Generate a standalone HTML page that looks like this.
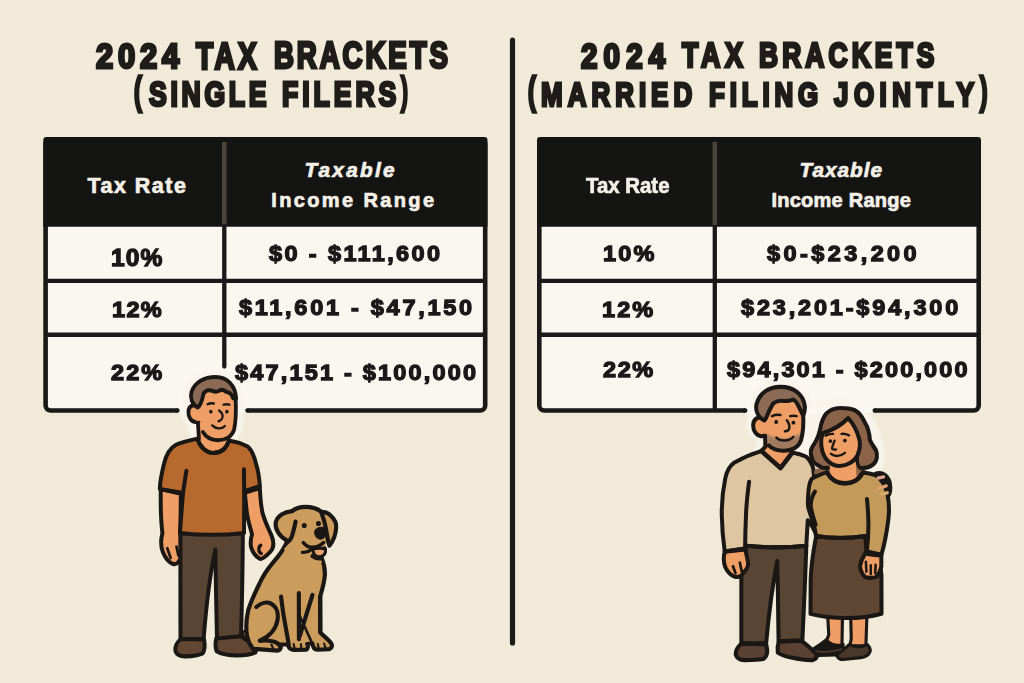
<!DOCTYPE html>
<html><head><meta charset="utf-8"><title>2024 Tax Brackets</title>
<style>
html,body{margin:0;padding:0}
body{width:1024px;height:683px;background:#f1ead9;overflow:hidden;font-family:"Liberation Sans",sans-serif}
#page{position:relative;width:1024px;height:683px;background:#f1ead9;overflow:hidden}
.t{position:absolute;white-space:pre;line-height:1;font-family:"Liberation Sans",sans-serif;font-weight:bold;transform-origin:0 0;color:#1b1917}
.ttl{color:#1f1c19;-webkit-text-stroke:3.0px #1f1c19;paint-order:stroke fill}
.hd{color:#f4f0e7;-webkit-text-stroke:0.7px #f4f0e7}
.it{font-style:italic}
.cell{color:#1b1917;-webkit-text-stroke:1.3px #1b1917;paint-order:stroke fill}
svg{position:absolute;left:0;top:0}
</style></head>
<body>
<div id="page">
<svg width="1024" height="683" viewBox="0 0 1024 683">
 <line x1="512.5" y1="40" x2="512.5" y2="643" stroke="#1c1a17" stroke-width="5.2" stroke-linecap="round"/>
 <!-- left table -->
 <g>
  <rect x="45.6" y="139.3" width="439.6" height="271.2" rx="5" ry="5" fill="#faf7f0" stroke="#1b1917" stroke-width="4.6"/>
  <path d="M43.3 226.8V140a3 3 0 0 1 3-3H484.5a3 3 0 0 1 3 3V226.8Z" fill="#141412"/>
  <rect x="222" y="142" width="4.6" height="83" fill="#4b4439"/>
  <line x1="224.3" y1="226" x2="224.3" y2="366.5" stroke="#1b1917" stroke-width="4.3" stroke-linecap="round"/>
  <line x1="46" y1="280.9" x2="485" y2="280.9" stroke="#1b1917" stroke-width="4.3"/>
  <line x1="46" y1="334.75" x2="485" y2="334.75" stroke="#1b1917" stroke-width="4.3"/>
 </g>
 <!-- right table -->
 <g>
  <rect x="539.3" y="139.3" width="439.4" height="271.2" rx="5" ry="5" fill="#faf7f0" stroke="#1b1917" stroke-width="4.6"/>
  <path d="M537 226.8V140a3 3 0 0 1 3-3H978a3 3 0 0 1 3 3V226.8Z" fill="#141412"/>
  <rect x="712.5" y="142" width="4.6" height="83" fill="#4b4439"/>
  <line x1="714.8" y1="226" x2="714.8" y2="409" stroke="#1b1917" stroke-width="4.3"/>
  <line x1="539" y1="280.9" x2="978" y2="280.9" stroke="#1b1917" stroke-width="4.3"/>
  <line x1="539" y1="334.75" x2="978" y2="334.75" stroke="#1b1917" stroke-width="4.3"/>
 </g>
<defs>
 <filter id="soft2" x="-20%" y="-20%" width="140%" height="140%"><feGaussianBlur stdDeviation="1.6"/></filter>
</defs>
<!-- halos over table borders -->
<g fill="#f8f4eb" stroke="#f8f4eb" stroke-linecap="round" stroke-linejoin="round" filter="url(#soft2)">
 <path d="M197 437 C194 430 193 424 192 421 C186 418 184.5 410 187.5 405.5 C187 396 190 386 198 381 C210 373.5 230 375.5 236 388 C239.5 396 239 412 237.5 424 C236.5 431 233 436 230 440 Z" stroke-width="11"/>
 <path d="M761 449 L764 436 C756 435 750.5 428 752.5 420 C753 417 754.5 415.5 756 415 C753.5 405 756.5 394 766 388.5 C778 382 796 384.5 802.5 395 C806.5 402 805.5 412 804 420 C815 408 830 402 846 405.5 C862 410 873 425 876 441 C879 450 882 458 877 466 L812 466 L806 456 L792 451 Z" stroke-width="11"/>
</g>
<g fill="none" stroke-linecap="butt">
 <path d="M177.4 410.5 L247.5 410.5 M745.2 410.5 L874.8 410.5" stroke="#faf7f0" stroke-width="5.4"/>
 <path d="M177 410.5 L177.4 410.5 M247.5 410.5 L247.9 410.5 M744.8 410.5 L745.2 410.5 M874.8 410.5 L875.2 410.5" stroke="#1b1917" stroke-width="4.6" stroke-linecap="round"/>
</g>
</svg>

<div class="t ttl" style="left:96.03px;top:37.50px;font-size:35.92px;letter-spacing:5.585px;transform:scale(0.8600,1.0000)">2024</div>
<div class="t ttl" style="left:196.32px;top:38.50px;font-size:36.96px;letter-spacing:4.362px;transform:scale(0.7600,1.0000)">TAX</div>
<div class="t ttl" style="left:273.87px;top:38.00px;font-size:36.43px;letter-spacing:3.78px;transform:scale(0.7600,1.0000)">BRACKETS</div>
<div class="t ttl" style="left:134.43px;top:70.79px;font-size:35.0px;letter-spacing:0px;transform:scale(0.6596,1.1049)">(</div>
<div class="t ttl" style="left:148.58px;top:76.00px;font-size:35.0px;letter-spacing:4.868px;transform:scale(0.7600,1.0000)">SINGLE</div>
<div class="t ttl" style="left:281.88px;top:76.00px;font-size:35.0px;letter-spacing:5.184px;transform:scale(0.7600,1.0000)">FILERS</div>
<div class="t ttl" style="left:401.14px;top:70.79px;font-size:35.0px;letter-spacing:0px;transform:scale(0.5895,1.1049)">)</div>
<div class="t ttl" style="left:580.62px;top:38.55px;font-size:34.23px;letter-spacing:7.223px;transform:scale(0.8600,1.0000)">2024</div>
<div class="t ttl" style="left:682.00px;top:37.14px;font-size:35.22px;letter-spacing:6.151px;transform:scale(0.7600,1.0000)">TAX</div>
<div class="t ttl" style="left:759.29px;top:38.39px;font-size:34.71px;letter-spacing:5.43px;transform:scale(0.7600,1.0000)">BRACKETS</div>
<div class="t ttl" style="left:528.25px;top:69.58px;font-size:34.0px;letter-spacing:0px;transform:scale(0.6836,1.1568)">(</div>
<div class="t ttl" style="left:541.14px;top:77.14px;font-size:34.14px;letter-spacing:6.61px;transform:scale(0.7600,1.0000)">MARRIED</div>
<div class="t ttl" style="left:708.85px;top:77.10px;font-size:34.14px;letter-spacing:6.374px;transform:scale(0.7600,1.0000)">FILING</div>
<div class="t ttl" style="left:834.49px;top:77.10px;font-size:34.14px;letter-spacing:7.23px;transform:scale(0.7600,1.0000)">JOINTLY</div>
<div class="t ttl" style="left:979.92px;top:69.58px;font-size:34.0px;letter-spacing:0px;transform:scale(0.6571,1.1568)">)</div>
<div class="t hd" style="left:87.56px;top:175.75px;font-size:21.45px;letter-spacing:1.5px;transform:scale(1.0000,1.0000)">Tax Rate</div>
<div class="t hd it" style="left:304.38px;top:159.50px;font-size:20.72px;letter-spacing:2.292px;transform:scale(1.0000,1.0000)">Taxable</div>
<div class="t hd" style="left:271.30px;top:190.26px;font-size:20.0px;letter-spacing:2.364px;transform:scale(1.0000,1.0000)">Income Range</div>
<div class="t cell" style="left:111.45px;top:246.25px;font-size:23.87px;letter-spacing:1.015px;transform:scale(1.0300,1.0000)">10%</div>
<div class="t cell" style="left:269.26px;top:242.03px;font-size:22.82px;letter-spacing:2.314px;transform:scale(1.0300,1.0000)">$0 - $111,600</div>
<div class="t cell" style="left:111.71px;top:298.00px;font-size:22.82px;letter-spacing:1.286px;transform:scale(1.0300,1.0000)">12%</div>
<div class="t cell" style="left:238.61px;top:295.78px;font-size:22.82px;letter-spacing:2.65px;transform:scale(1.0300,1.0000)">$11,601 - $47,150</div>
<div class="t cell" style="left:110.50px;top:360.75px;font-size:22.82px;letter-spacing:2.007px;transform:scale(1.0300,1.0000)">22%</div>
<div class="t cell" style="left:234.86px;top:360.78px;font-size:22.82px;letter-spacing:2.128px;transform:scale(1.0300,1.0000)">$47,151 - $100,000</div>
<div class="t hd" style="left:585.82px;top:175.75px;font-size:21.45px;letter-spacing:0px;transform:scale(0.9514,1.0000)">Tax Rate</div>
<div class="t hd it" style="left:799.57px;top:159.50px;font-size:20.72px;letter-spacing:1.0px;transform:scale(1.0000,1.0000)">Taxable</div>
<div class="t hd" style="left:771.39px;top:189.76px;font-size:20.0px;letter-spacing:0.25px;transform:scale(1.0000,1.0000)">Income Range</div>
<div class="t cell" style="left:603.43px;top:242.25px;font-size:22.82px;letter-spacing:2.136px;transform:scale(1.0300,1.0000)">10%</div>
<div class="t cell" style="left:767.21px;top:242.03px;font-size:22.82px;letter-spacing:3.32px;transform:scale(1.0300,1.0000)">$0-$23,200</div>
<div class="t cell" style="left:602.15px;top:298.00px;font-size:22.82px;letter-spacing:2.015px;transform:scale(1.0300,1.0000)">12%</div>
<div class="t cell" style="left:740.67px;top:295.78px;font-size:22.82px;letter-spacing:2.744px;transform:scale(1.0300,1.0000)">$23,201-$94,300</div>
<div class="t cell" style="left:602.50px;top:358.00px;font-size:22.82px;letter-spacing:1.522px;transform:scale(1.0300,1.0000)">22%</div>
<div class="t cell" style="left:726.96px;top:358.03px;font-size:22.82px;letter-spacing:2.102px;transform:scale(1.0300,1.0000)">$94,301 - $200,000</div>

<svg width="1024" height="683" viewBox="0 0 1024 683">
<defs>
 <filter id="soft" x="-20%" y="-20%" width="140%" height="140%"><feGaussianBlur stdDeviation="1.6"/></filter>
</defs>
<!-- ================= MAN ================= -->
<g transform="translate(216.7 517.1) scale(0.969 0.987) translate(-217 -517.5)" stroke="#1a1714" stroke-width="4.1" stroke-linejoin="round" stroke-linecap="round">
 <!-- arms (skin) -->
 <path d="M159.3 489 C159 505 159.5 522 161 534 C159 541 159.5 548 161.5 553 C164 559 168 563.5 172 565 C176 566 178 563 181 557 C183.5 553 184 550 183 547 C181 543 179.5 538 179.5 534 L180 494 Z" fill="#ef9f65"/>
 <path d="M261.5 488 C262 498 262.5 506 264.5 514 C267 523 271 530 273.5 536 C276.5 543 276 549 272 553 C268 557 264.5 560 262 560 C258 558 254 553 252.5 548 C251.5 543 252.5 538 253.5 535 C251.5 528 249 520 248 512 L246 493 Z" fill="#ef9f65"/>
 <path d="M166 549 L169.5 559 M175.5 547.5 L177.5 556.5" fill="none" stroke-width="2.8"/>
 <path d="M262.5 546 C259.5 548 260 553 263 554.5" fill="none" stroke-width="3.4"/>
 <!-- pants -->
 <path d="M179.5 534 L179.6 641 L203.5 641 C206 610 210 575 215.6 550.5 C216 580 216.5 612 217.3 641 L242 640 C243 610 243.7 575 244 534 Z" fill="#594533"/>
 <!-- shoes -->
 <path d="M180 641 C176 644 173.5 649 174.5 653.5 C176 657.5 180 658.8 185 658.6 C192 658.4 198 657.5 202.5 655.5 C205 652 204.8 646 204 641.5 Z" fill="#634735"/>
 <path d="M216.5 640.5 C215.5 645 215.5 650 217 653.5 C222 656.5 230 657.7 238 657.7 C246 657.7 253 656.5 257 654.5 C258.5 651.5 257.5 648.5 255 647 C250 643.5 245.5 640.5 242 638.3 Z" fill="#634735"/>
 <!-- neck -->
 <path d="M197 419 L198 441 C204 455 226 455 231 440 L235 428 Z" fill="#ef9f65" stroke="none"/>
 <!-- shirt -->
 <path d="M197 438 C188 440 180 442 175 444.2 C168 448 164.5 455 162.5 464 C160 474 158.5 482 158.3 489 L182.2 493.3 L179 533.5 C200 536 224 536 245.2 533.5 L245.4 491.5 L261.5 486.2 C261 478 259.8 470 257.5 463 C255.5 455 253 449.5 249 446 C243 443 236 441 229.6 440 C227 448 221 452.5 213.5 452.5 C206 452.5 199.5 446 197 438 Z" fill="#b8692e"/>
 <path d="M185.7 470.5 L182.2 493 M245.1 469 L245.4 491.5" fill="none"/>
 <path d="M158.5 489 L182.2 493.3 M245.4 491.5 L261.3 486.2" fill="none" stroke-width="3.8"/>
 <path d="M197 438 C199.5 446 206 452.5 213.5 452.5 C221 452.5 227 448 229.6 440" fill="none" stroke-width="4"/>
 <g transform="translate(213.3 0) scale(0.955 1) translate(-213.3 0)">
 <!-- head: face -->
 <path d="M197 386 C196 405 196.5 420 201 430 C205 437 212 439.6 218.5 439.6 C228 439.6 234 435 236 428.5 C238 418 238 405 237.5 386 Z" fill="#ef9f65" stroke="none"/>
 <path d="M237.6 397 C238.2 408 238 420 236 428.8 C233.5 436 226.5 439.6 218.5 439.6 C211.5 439.6 205.5 436.5 202.3 431.3" fill="none"/>
 <path d="M196.8 421 L198 438" fill="none"/>
 <!-- ear -->
 <path d="M197.5 405.5 C193 402.5 187 404.5 186.6 410.5 C186.3 416 189.5 420.5 194 421.2 L197.5 421" fill="#ef9f65"/>
 <rect x="195" y="407.5" width="5" height="12.5" fill="#ef9f65" stroke="none"/>
 <!-- hair -->
 <path d="M196.6 406.5 C190.5 403.5 188 396.5 190 390.5 C193.5 380.5 204 375.6 216 375.6 C228 375.6 237.5 383.5 238.2 397.5 L235 397 C233.5 393 230.5 390.8 227.2 390.5 C225 388.2 221.8 388.3 219.5 389.6 C216.5 391.4 213.5 390.3 210.8 389.2 C207.5 388.4 204.8 389.8 203 392.3 C201.8 397 200.8 403.5 196.6 406.5 Z" fill="#8b6b55"/>
 <!-- face details -->
 <path d="M207.3 403.2 C209.5 402 212 401.9 214.1 402.4 M224.7 403.6 C226.8 403 229 403 230.9 403.6" fill="none" stroke-width="2.4"/>
 <circle cx="210.8" cy="410.7" r="1.9" fill="#1a1714" stroke="none"/>
 <circle cx="228.2" cy="410.7" r="1.9" fill="#1a1714" stroke="none"/>
 <path d="M219.8 409.5 C222.5 411.5 224.2 414.5 223.3 417 C222.5 419 221 420 219.2 420.4" fill="none" stroke-width="2.4"/>
 <path d="M212.3 424.6 C216 428.3 222.5 428.6 226 425.3" fill="none" stroke-width="2.4"/>
 </g>
</g>
<!-- ================= DOG ================= -->
<g transform="translate(289.75 578.65) scale(0.967 0.9755) translate(-290 -578.5)" stroke="#1a1714" stroke-width="4.3" stroke-linejoin="round" stroke-linecap="round">
 <!-- tail -->
 <path d="M246 632 C242.5 631 241 634 242 637 C243 640 245 641.5 248 641.5" fill="#cc9c5d" stroke-width="2.6"/>
 <!-- body -->
 <path d="M287 541 C283 550 278 556 273.5 561 C267 568.5 262 576 258.5 584 C253.5 594 249.5 603 247 611 C245 620 244.5 630 246 638 C247 643 249 647 252 650.5 L277.5 652.3 C281 651.5 281.5 648 279.5 646 L288 646 C289 650 291.5 651.8 295 651.6 L307 651.4 C309 650 309.3 647.5 308 645.5 L313.5 645 C314 649.5 316 651.5 319 651.4 L331 650.8 C334 649.5 334.3 646.5 332.5 644.3 C329.5 640.5 324.5 637 321.6 633.5 L321.4 597 C323.5 590 325.8 583 326.3 575 C326.6 568 325 562 323 557.5 Z" fill="#cc9c5d"/>
 <!-- gap between legs -->
 <path d="M302.3 617.5 L306.5 624.5 L301 632 Z" fill="#f1ead9" stroke="none"/>
 <!-- leg lines -->
 <path d="M281 597 C282.5 610 284.5 622 286.2 630.5 C287.2 636 288.2 641 288.9 646" fill="none"/>
 <path d="M299.4 593.4 L299.5 640.5" fill="none"/>
 <path d="M313.5 595.2 L300.3 637.3" fill="none"/>
 <path d="M300.5 617 L312.6 643.5" fill="none" stroke-width="2.8"/>
 <path d="M321.5 597 L321.5 633.5" fill="none"/>
 <!-- haunch -->
 <path d="M255.5 607.6 C260 603.5 266 602 270.5 604 C276.5 607 278.5 614 277.3 621 C276 629 270 637.5 259 642.2 C263.5 641.8 268.5 641.8 272.2 642.6 C276 643.6 279 645.5 280.1 648" fill="none"/>
 <!-- toes -->
 <path d="M271 646 L273 650.5 M294 645.5 L295 650 M301.5 645.5 L302 650 M319 645.5 L320 650 M325.5 645 L327 649.5" fill="none" stroke-width="2.2"/>
 <!-- ears + head -->
 <path d="M290 511 C295 506.5 301 505 306 505 C312 505 318 506.5 322.5 509.8 C328 513 330 519 330 526 C330.5 534 329 541 326 547.5 C325 552 323.5 556 321.5 557.8 L323.5 562 L300 575 L284 548 L291.5 540 C293.5 532 295.5 522 296 514 Z" fill="#cc9c5d" stroke="none"/>
 <path d="M291.5 510 L298 508.5 L297.5 522 L293 522 Z" fill="#cc9c5d" stroke="none"/>
 <path d="M291.5 509.8 C296 506.5 301 505 306 505 C312 505 318 506.5 322.5 509.8" fill="none"/>
 <path d="M292.5 509.3 C284.5 509.8 277 514 275.5 521 C274.5 528 279.5 536 288.5 540.3 C291 539 292.4 535.5 293.4 531 C294.6 527 295.4 523.5 296 520" fill="#cc9c5d"/>
 <path d="M322.5 510 C326 510 329.5 511 332 513.5 C336.5 517.5 338.5 522 338 526.5 C337.5 533 335 540 331 544.6 C329.5 541 329 537 328.5 533.5 C327.5 527 326 520 324 514.5 Z" fill="#cc9c5d"/>
 <path d="M326 547.5 C325 552 323.5 556 321.5 557.8 C319 558 316 557 313.5 555.5" fill="none"/>
 <!-- face -->
 <circle cx="305" cy="524" r="2.6" fill="#1a1714" stroke="none"/>
 <circle cx="319.7" cy="522" r="2.6" fill="#1a1714" stroke="none"/>
 <path d="M316 530 C317 527 321 525.3 324.5 526.3 C327 527.5 327.5 531 326.5 534 C325.5 537 322.5 538.5 320 537.5 C317.5 536.5 315.5 533.5 316 530 Z" fill="#1a1714" stroke-width="1.5"/>
 <path d="M304 541.5 C306.5 544.5 309.5 546.3 312.6 546.3 C317.5 546.5 322 544.5 325 541.5" fill="none" stroke-width="3.6"/>
 <path d="M303 551.5 C306 552 309.5 551 312.5 548.5" fill="none" stroke-width="3.4"/>
 <path d="M314 548.5 C314 553 317 556 321 556 C325 556 327.5 552.5 327 548.5 C324.5 547 317.5 547 314 548.5 Z" fill="#e8a070" stroke-width="3.2"/>
</g>
<!-- ================= COUPLE ================= -->
<g transform="translate(806.3 523.7) scale(0.977 0.988) translate(-806.5 -523.5)" stroke="#1a1714" stroke-width="4.1" stroke-linejoin="round" stroke-linecap="round">
 <!-- husband hand on wife's shoulder (behind her) -->
 <path d="M876 474 C879 471.5 884 471.8 887.5 474.5 C891 477.5 892.5 482 892.5 487 C892.5 491.5 891 495.5 888.5 497.5 L878 495 Z" fill="#1a1714"/>
 <!-- husband pants -->
 <path d="M745 546 C743 556 741 566 740 576 L740 644.5 L765.4 644.5 C768 616 771.5 588 776.8 561.2 C777.4 588 777.8 616 778.1 642.5 L802.5 641.5 C804 610 805.5 578 806.5 546 Z" fill="#594533"/>
 <!-- husband shoes -->
 <path d="M740 645 C736.5 648 734 652 734.3 656 C735.5 660 739 661.8 744 661.6 C751 661.5 757.5 661.2 762.5 660.4 C766 658 766.8 654 766.4 650.5 L765.5 645.5 Z" fill="#5a4132"/>
 <path d="M778.2 643 C777 647 776.8 651 777.3 654 C781 656.5 786 658 791 659 C798 660.5 806 661.8 813 661.6 C816 660.5 817.8 658.5 817.2 656 C813 651 807 646 801.6 642 Z" fill="#5a4132"/>
 <!-- husband: left hand -->
 <path d="M723 552 C721.5 557 722 563 723.5 567.5 C726 572.5 729.5 576 733.5 577.3 C737 577.8 740 577 741.5 574 C744.5 571 747 567.5 747 564 C746.5 559 745 554.5 744 549.5 Z" fill="#ef9f65"/>
 <path d="M731.5 566.5 L734 573.5 M738.5 563 L740.5 572" fill="none" stroke-width="2.8"/>
 <!-- husband neck -->
 <path d="M763 440 L760 452 L780 468 L793 454 L800 438 Z" fill="#ef9f65" stroke="none"/>
 <!-- husband sweater -->
 <path d="M760.4 450 C750 453 741 457 733 461.5 C727.5 465.5 724.8 471 723.5 478 C721 490 719.8 503 720 515 C720.2 528 721.5 541 723 551.7 L743.9 548.6 L745 545.8 C765 548 786 548 806.5 545.8 L808 520 C812 524 814 529 816.4 533.5 L816 490 L813.5 467 C811.5 461.5 809 457.5 806 455.5 C801.5 453.5 796.5 452.3 792 451.5 L780.1 467.2 Z" fill="#dec6a2"/>
 <path d="M747.9 481 C746.5 492 745.2 503 744.8 514 C744.3 525 744 536 743.9 547" fill="none"/>
 <path d="M723.1 551.7 L743.9 548.6" fill="none" stroke-width="4.2"/>
 <path d="M745 545.8 C765 548 786 548 806.5 545.8" fill="none" stroke-width="4.2"/>
 <path d="M760.4 449.8 L780.1 467.2 L792 451.8" fill="none" stroke-width="4.6"/>
 <!-- husband face -->
 <path d="M764 398 C762.5 412 762.5 428 765 440 C769 446.5 776 449.6 783.4 449.6 C792 449.6 799.5 445.5 801.2 438.5 C803.5 428 803.8 415 803.2 404 L800 396 Z" fill="#ef9f65" stroke="none"/>
 <path d="M765 432 C766 438 767 442 768.1 444.2 C772 448 777.5 449.6 783.4 449.6 C792 449.6 799.5 445.5 801.2 438.5 C801.8 436 802.2 433.5 802.5 431 C797 435 790 437.5 783 437.5 C776 437.5 769.5 435.5 765 432 Z" fill="#a07a5e" stroke="none" filter="url(#soft)"/>
 <path d="M803.3 412 C803.8 421 803.3 431 801.2 438.6 C799 445.8 792 449.6 783.4 449.6 C777.2 449.6 771.5 447.8 768.1 444.2" fill="none"/>
 <path d="M764.3 436 L764.8 445.5 L760.4 450" fill="none"/>
 <!-- ear -->
 <path d="M764.5 417.5 C760 414 753 416 752.2 422.5 C751.6 429 755 434 760 435 L764.5 434.5" fill="#ef9f65"/>
 <!-- hair -->
 <path d="M763.5 419 C757 415.5 754.2 409 755.5 402.5 C758.5 391.5 768 385 780.1 385 C793 385 803.5 392 805 404.5 C805.3 408 804.5 411.5 803.3 414.2 C801.5 410.5 800 407.5 799 405.5 C797.5 402 795.5 399 793 397.8 C789.5 399.2 786.5 399.6 783.4 399.3 C779.5 398.8 776 399.5 773 401.5 C770.5 404.5 768.5 409.5 766.5 414 C765.7 416 764.7 417.8 763.5 419 Z" fill="#8b6b55"/>
 <path d="M771.4 414.6 C774 413.3 777.5 413 780.1 413.5 M790 414.6 C792.2 414 794.5 414 796.6 414.6" fill="none" stroke-width="2.5"/>
 <circle cx="775.7" cy="420.6" r="2" fill="#1a1714" stroke="none"/>
 <circle cx="793.3" cy="421.2" r="2" fill="#1a1714" stroke="none"/>
 <path d="M786.6 418.8 C788.5 421.5 789.8 425 788.9 427.7 C788.2 429.3 786.5 430 784.6 429.9" fill="none" stroke-width="2.5"/>
 <path d="M775.8 436.4 C780 440.4 788.5 440.4 793.2 435.6" fill="none" stroke-width="2.5"/>

 <!-- wife legs -->
 <path d="M828.5 618 L829.5 636 C828.5 640 826.5 643 824 646 L843 647 L843.5 618 Z" fill="#ef9f65" stroke-width="3.2"/>
 <path d="M852 618 L852.5 640 L851 647 L867.5 647 L868.5 618 Z" fill="#ef9f65" stroke-width="3.2"/>
 <!-- wife shoes -->
 <path d="M814.5 649.5 C818.5 647 823 644 827 640.8 C832 646.5 839 647.2 844.5 645.5 L844.3 652 C843.5 655 841 656.3 837 656.5 L819 657 C815.5 656.5 813.8 653 814.5 649.5 Z" fill="#1a1714" stroke-width="2.6"/>
 <path d="M838 656 C842 653 846.5 649.5 850.4 645.9 C856 648.5 863 648.5 868.9 645.9 C871 648 872.3 650.5 871.8 652.8 C870.5 656.5 867 658.3 862.5 659 L844 661 C840 661 837.5 658.5 838 656 Z" fill="#4a372c" stroke-width="3.2"/>
 <path d="M816.5 652.5 C824 654 834 653.5 842.5 650.5" fill="none" stroke="#4a372c" stroke-width="2"/>
 <!-- skirt -->
 <path d="M816.4 537 C813.5 552 811.5 566 811 580 L810.8 614.8 C822 617.8 836 619 848 619 C860 619 873 617.5 883.5 614.6 L883.4 575 C882.5 562 878 549 868 537 Z" fill="#604733"/>
 <!-- wife neck -->
 <path d="M831 462 L831 476 L846 484 L856 476 L855 462 Z" fill="#ef9f65" stroke="none"/>
 <!-- wife hair back -->
 <path d="M828.6 467 C825 467.5 822 467 819.8 465.2 C815.5 463 813 461 812.6 458.1 C811 455 810.8 452 811.2 449.2 C812 446 814 443.5 816.2 440.3 C818.5 436 819.8 432 820.7 427.9 C822 420 824 415.5 827.1 411.9 C831 408 836 406.4 841.2 406.4 C847 406.4 852 407 856.3 408.6 C860.5 411 863.5 415 865.3 418.9 C868 423 869.8 427.5 870.6 431.4 C871.2 434 871.4 436.5 871.5 438.6 C873 442.5 876 446 877.8 449.2 C878.8 451.5 879 454 878.7 456.3 C878.3 459.5 877 462 875.1 463.5 C872 466 868 467.2 864 467 L869 471 L864 478 L822 478 L814.5 473 L815 468 Z" fill="#8b6349" stroke="none"/>
 <path d="M828.6 467 C825 467.5 822 467 819.8 465.2 C815.5 463 813 461 812.6 458.1 C811 455 810.8 452 811.2 449.2 C812 446 814 443.5 816.2 440.3 C818.5 436 819.8 432 820.7 427.9 C822 420 824 415.5 827.1 411.9 C831 408 836 406.4 841.2 406.4 C847 406.4 852 407 856.3 408.6 C860.5 411 863.5 415 865.3 418.9 C868 423 869.8 427.5 870.6 431.4 C871.2 434 871.4 436.5 871.5 438.6 C873 442.5 876 446 877.8 449.2 C878.8 451.5 879 454 878.7 456.3 C878.3 459.5 877 462 875.1 463.5 C872 466 868 467.2 864 467" fill="none"/>
 <path d="M831 460 L830.5 478 L846 486 L858 478 L857 458 Z" fill="#ef9f65" stroke="none"/>
 <path d="M861 445 C859 451 858 457 858.8 461.5 C859.3 464 860.3 466 861.8 467.5" fill="none" stroke-width="3.4"/>
 <!-- wife sweater -->
 <path d="M827.5 471.6 C821.5 473.5 816 475.5 812 478.2 C809.5 482 808.8 488 808.5 494 C808 499 807.8 503 808.5 507 C810.5 514 813 520.5 814.6 526 C815.5 529.5 816 532.5 816.4 536 C833 538.5 850 538.5 866.8 536 L868 551.5 L883.3 555 C885 549.5 886.3 544 887.2 539.5 C889 530 890.5 521.5 891 513.5 C891.4 506.5 890.8 499.5 889.6 494 C888 486 884 478.5 877 474.2 C873 472.8 869 472 864.5 471.6 C861 478 854.5 482.6 846 482.6 C838 482.6 831.5 478.5 827.5 471.6 Z" fill="#c49a5b"/>
 <path d="M815.3 491 C812.5 495.5 811 500 811 505 C811.5 512 814.2 518.5 816 524.5" fill="none"/>
 <path d="M868.6 498.5 C869.5 507 870 516 870.1 525 C870 534 869.4 543 868.6 551" fill="none"/>
 <path d="M816.4 536 C833 538.5 850 538.5 866.8 536" fill="none" stroke-width="4.2"/>
 <path d="M867.9 552 L883.3 555.3" fill="none" stroke-width="4.2"/>
 <path d="M827.8 471.6 C831.5 478.5 838 482.6 846 482.6 C854.5 482.6 861 478 864.3 471.6" fill="none" stroke-width="4.4"/>
 <!-- wife right hand -->
 <path d="M866.5 554 C864 558 862 562.5 861.4 566.5 C862 571 864 575 867 577.8 C870.5 578.5 874.5 578.5 878 577.6 C881 574 882.8 570.5 883.3 566.5 L883.3 556 Z" fill="#ef9f65"/>
 <path d="M867.5 562 L868 572 M872.5 565.5 L872.5 574.5 M877.5 565 L877 573.5" fill="none" stroke-width="2.6"/>
 <!-- fingers of husband's hand -->
 <g fill="none" stroke-width="3.4">
  <path d="M879.8 477.3 L885.5 476.2" stroke="#dba68a"/>
  <path d="M880.8 487.6 L888.3 485.2" stroke="#e0a070"/>
  <path d="M883.8 493.4 L889.3 492.2" stroke="#d9ae6e"/>
 </g>
 <!-- wife face -->
 <path d="M823 432 C820.5 440 821.5 450 826 457 C830 462.5 835 465 840.5 465 C848 465 855.5 461 859 454 C861.5 448 862.3 442 860.3 436.5 C858 429 854.5 422 849.3 416.7 C842 424 833 429 823 432 Z" fill="#ef9f65"/>
 <path d="M825.5 431 C836 428 844 423 849.3 416.7" fill="none" stroke-width="3.4"/>
 <path d="M826.2 434.3 C828.5 433 831.5 432.5 833.8 432.6 M842.5 432.6 C845 432.3 848 433 850.2 434" fill="none" stroke-width="2.5"/>
 <circle cx="831.1" cy="439.8" r="1.9" fill="#1a1714" stroke="none"/>
 <circle cx="846" cy="439.4" r="1.9" fill="#1a1714" stroke="none"/>
 <path d="M835.4 439.5 C834.5 442 833.3 445 832.8 447.4 C834 448.5 835.5 448.6 836.8 448.4" fill="none" stroke-width="2.4"/>
 <path d="M831.7 452.8 C835.5 455.8 841.5 455.6 846 451.8" fill="none" stroke-width="2.5"/>
</g>
</svg>

</div>
</body></html>
